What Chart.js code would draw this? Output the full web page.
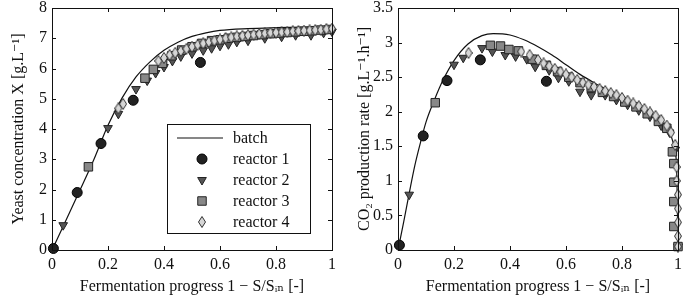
<!DOCTYPE html>
<html>
<head>
<meta charset="utf-8">
<script src="https://cdn.jsdelivr.net/npm/chart.js@4.4.1/dist/chart.umd.min.js"></script>
<style>
  body { margin: 0; background: #fff; }
  .row { display: flex; width: 692px; height: 304px; }
  canvas { display: block; }
</style>
</head>
<body>
<div class="row">
  <canvas id="biomass" width="346" height="304"></canvas>
  <canvas id="co2rate" width="346" height="304"></canvas>
</div>
<script>
// batch model curves
const batchXProgress = [0, 0.05, 0.1, 0.15, 0.2, 0.25, 0.3, 0.35, 0.4, 0.45, 0.5, 0.55, 0.6, 0.7, 0.8, 0.9, 1];
const batchXValues   = [0, 0.98, 1.98, 3.0, 4.12, 5.02, 5.72, 6.22, 6.6, 6.87, 7.06, 7.18, 7.26, 7.32, 7.35, 7.37, 7.38];

const batchRateProgress = [0, 0.02, 0.04, 0.06, 0.08, 0.1, 0.13, 0.16, 0.2, 0.25, 0.3, 0.34, 0.4, 0.45, 0.5, 0.55, 0.6, 0.65, 0.7, 0.75, 0.8, 0.85, 0.9, 0.95, 0.97, 0.985, 0.995, 1];
const batchRateValues   = [0, 0.4, 0.82, 1.22, 1.55, 1.85, 2.17, 2.45, 2.74, 2.98, 3.1, 3.13, 3.11, 3.04, 2.94, 2.82, 2.68, 2.54, 2.42, 2.31, 2.2, 2.08, 1.95, 1.8, 1.7, 1.52, 1.2, 0];

// reactor 1
const r1XProgress = [0.005, 0.09, 0.175, 0.29, 0.53];
const r1XValues   = [0.05, 1.9, 3.52, 4.95, 6.2];
const r1RateProgress = [0.005, 0.09, 0.175, 0.294, 0.53];
const r1RateValues   = [0.07, 1.65, 2.45, 2.75, 2.44];

// reactor 2
const r2XProgress = [0.04, 0.2, 0.237, 0.3, 0.34, 0.37, 0.4, 0.43, 0.46, 0.5, 0.54, 0.57, 0.6, 0.63, 0.66, 0.7, 0.76, 0.82, 0.87, 0.925, 0.97, 1.0];
const r2XValues   = [0.82, 4.03, 4.5, 5.32, 5.6, 5.85, 6.05, 6.25, 6.4, 6.5, 6.6, 6.67, 6.75, 6.8, 6.88, 6.92, 7.0, 7.05, 7.1, 7.1, 7.18, 7.22];
const r2RateProgress = [0.04, 0.2, 0.233, 0.3, 0.337, 0.383, 0.42, 0.46, 0.49, 0.54, 0.573, 0.61, 0.65, 0.69, 0.74, 0.78, 0.82, 0.86, 0.9, 0.94, 0.97, 0.99, 1.0];
const r2RateValues   = [0.8, 2.68, 2.78, 2.92, 2.87, 2.82, 2.8, 2.76, 2.65, 2.6, 2.49, 2.44, 2.29, 2.24, 2.24, 2.17, 2.1, 2.02, 1.93, 1.8, 1.7, 1.45, 0.05];

// reactor 3
const r3XProgress = [0.13, 0.332, 0.362, 0.395, 0.428, 0.463, 0.5, 0.535, 0.57, 0.6, 0.63, 0.66, 0.69, 0.72, 0.75, 0.78, 0.81, 0.84, 0.87, 0.9, 0.93, 0.96, 0.99];
const r3XValues   = [2.75, 5.68, 5.97, 6.17, 6.42, 6.61, 6.72, 6.83, 6.92, 6.95, 7.0, 7.03, 7.06, 7.09, 7.12, 7.15, 7.17, 7.19, 7.21, 7.23, 7.25, 7.27, 7.29];
const r3RateProgress = [0.133, 0.33, 0.366, 0.396, 0.43, 0.48, 0.53, 0.57, 0.61, 0.65, 0.69, 0.73, 0.77, 0.81, 0.85, 0.89, 0.93, 0.96, 0.98, 0.985, 0.985, 0.985, 0.985, 1.0];
const r3RateValues   = [2.13, 2.96, 2.95, 2.9, 2.88, 2.76, 2.67, 2.58, 2.5, 2.42, 2.35, 2.28, 2.22, 2.14, 2.07, 1.97, 1.86, 1.76, 1.42, 1.25, 0.98, 0.7, 0.34, 0.05];

// reactor 4
const r4XProgress = [0.237, 0.254, 0.38, 0.4, 0.42, 0.44, 0.46, 0.48, 0.5, 0.52, 0.54, 0.56, 0.58, 0.6, 0.62, 0.64, 0.66, 0.68, 0.7, 0.72, 0.74, 0.76, 0.78, 0.8, 0.82, 0.84, 0.86, 0.88, 0.9, 0.92, 0.94, 0.96, 0.98, 1.0];
const r4XValues   = [4.68, 4.83, 6.25, 6.35, 6.45, 6.52, 6.58, 6.65, 6.72, 6.78, 6.83, 6.88, 6.92, 6.96, 7.0, 7.03, 7.06, 7.08, 7.1, 7.12, 7.14, 7.16, 7.18, 7.19, 7.2, 7.21, 7.23, 7.24, 7.25, 7.26, 7.27, 7.28, 7.3, 7.32];
const r4RateProgress = [0.252, 0.44, 0.47, 0.5, 0.52, 0.54, 0.56, 0.58, 0.6, 0.62, 0.64, 0.66, 0.68, 0.7, 0.72, 0.74, 0.76, 0.78, 0.8, 0.82, 0.84, 0.86, 0.88, 0.9, 0.92, 0.94, 0.96, 0.975, 0.99, 0.995, 0.995, 1.0, 1.0, 1.0, 1.0, 1.0];
const r4RateValues   = [2.85, 2.87, 2.82, 2.75, 2.7, 2.66, 2.62, 2.58, 2.54, 2.5, 2.46, 2.42, 2.39, 2.36, 2.33, 2.3, 2.27, 2.24, 2.2, 2.16, 2.12, 2.08, 2.04, 1.99, 1.94, 1.88, 1.8, 1.7, 1.52, 1.2, 1.0, 0.8, 0.6, 0.4, 0.2, 0.05];

const legendLabels = ['batch', 'reactor 1', 'reactor 2', 'reactor 3', 'reactor 4'];

const SERIF = "'Liberation Serif', 'DejaVu Serif', serif";
const INK = '#111';

function pairs(xs, ys) {
    return xs.map((x, i) => ({ x: x, y: ys[i] }));
}

// thin diamond marker
const diamond = document.createElement('canvas');
diamond.width = 8;
diamond.height = 12;
(function () {
    const c = diamond.getContext('2d');
    c.beginPath();
    c.moveTo(4, 0.5);
    c.lineTo(7.5, 6);
    c.lineTo(4, 11.5);
    c.lineTo(0.5, 6);
    c.closePath();
    c.fillStyle = '#d6d6d6';
    c.fill();
    c.strokeStyle = '#333';
    c.lineWidth = 1;
    c.stroke();
})();

const markerStyles = [
    { pointStyle: 'circle', radius: 5, rotation: 0, backgroundColor: '#222', borderColor: '#000', borderWidth: 1 },
    { pointStyle: 'triangle', radius: 5, rotation: 180, backgroundColor: '#555', borderColor: '#222', borderWidth: 1 },
    { pointStyle: 'rect', radius: 6, rotation: 0, backgroundColor: '#888', borderColor: '#222', borderWidth: 1 },
    { pointStyle: diamond, radius: 5, rotation: 0, backgroundColor: '#d6d6d6', borderColor: '#333', borderWidth: 1 },
];

function reactorDataset(i, data) {
    const m = markerStyles[i];
    return {
        label: legendLabels[i + 1],
        data: data,
        showLine: false,
        pointStyle: m.pointStyle,
        pointRadius: m.radius,
        pointRotation: m.rotation,
        pointBackgroundColor: m.backgroundColor,
        pointBorderColor: m.borderColor,
        pointBorderWidth: m.borderWidth,
        order: 3 - i,
        clip: false
    };
}

// inward ticks + box, matlab style
const frameTicks = {
    id: 'frameTicks',
    afterDatasetsDraw(chart) {
        const { ctx, chartArea: a, scales: { x, y } } = chart;
        ctx.save();
        ctx.strokeStyle = INK;
        ctx.lineWidth = 1;
        ctx.beginPath();
        x.ticks.forEach(t => {
            const px = Math.round(x.getPixelForValue(t.value)) + 0.5;
            ctx.moveTo(px, a.bottom); ctx.lineTo(px, a.bottom - 4);
            ctx.moveTo(px, a.top); ctx.lineTo(px, a.top + 4);
        });
        y.ticks.forEach(t => {
            const py = Math.round(y.getPixelForValue(t.value)) + 0.5;
            ctx.moveTo(a.left, py); ctx.lineTo(a.left + 4, py);
            ctx.moveTo(a.right, py); ctx.lineTo(a.right - 4, py);
        });
        ctx.stroke();
        ctx.strokeRect(Math.round(a.left) + 0.5, Math.round(a.top) + 0.5, Math.round(a.width), Math.round(a.height));
        ctx.restore();
    }
};

// legend box inside the left axes
const insideLegend = {
    id: 'insideLegend',
    afterDraw(chart) {
        const { ctx, chartArea: a } = chart;
        const left = a.left + 115, top = a.top + 116, w = 143, h = 109;
        ctx.save();
        ctx.fillStyle = '#fff';
        ctx.fillRect(left, top, w, h);
        ctx.strokeStyle = INK;
        ctx.lineWidth = 1;
        ctx.strokeRect(left + 0.5, top + 0.5, w, h);
        ctx.font = '16px ' + SERIF;
        ctx.textBaseline = 'middle';
        ctx.fillStyle = INK;
        legendLabels.forEach((label, i) => {
            const cy = top + 14 + i * 21;
            const cx = left + 35;
            if (i === 0) {
                ctx.beginPath();
                ctx.moveTo(left + 10, cy);
                ctx.lineTo(left + 56, cy);
                ctx.lineWidth = 1.2;
                ctx.stroke();
            } else {
                const m = markerStyles[i - 1];
                if (m.pointStyle === diamond) {
                    ctx.drawImage(diamond, cx - diamond.width / 2, cy - diamond.height / 2);
                } else {
                    ctx.fillStyle = m.backgroundColor;
                    ctx.strokeStyle = m.borderColor;
                    ctx.lineWidth = m.borderWidth;
                    Chart.helpers.drawPoint(ctx, { pointStyle: m.pointStyle, radius: m.radius, rotation: m.rotation, borderWidth: m.borderWidth }, cx, cy);
                    ctx.strokeStyle = INK;
                }
            }
            ctx.fillStyle = INK;
            ctx.fillText(label, left + 66, cy + 1);
        });
        ctx.restore();
    }
};

const plainNumber = v => String(Number(v.toFixed(2)));

function makeChart(id, batch, reactors, yMax, yStep, yTitle, plugins) {
    const datasets = [{
        label: 'batch',
        data: batch,
        showLine: true,
        borderColor: INK,
        borderWidth: 1.2,
        pointRadius: 0,
        cubicInterpolationMode: 'monotone',
        order: 5
    }];
    reactors.forEach((d, i) => datasets.push(reactorDataset(i, d)));

    return new Chart(document.getElementById(id), {
        type: 'scatter',
        data: { datasets: datasets },
        options: {
            responsive: false,
            animation: false,
            events: [],
            layout: { padding: { top: 8, right: 14, left: 0, bottom: 0 } },
            plugins: { legend: { display: false }, tooltip: { enabled: false } },
            scales: {
                x: {
                    type: 'linear', min: 0, max: 1,
                    grid: { display: false, drawTicks: false },
                    border: { display: false },
                    ticks: { stepSize: 0.2, color: INK, padding: 5, maxRotation: 0, callback: plainNumber, font: { family: SERIF, size: 16 } },
                    title: { display: true, text: 'Fermentation progress 1 − S/Sᵢₙ [-]', color: INK, padding: { top: 0, bottom: 8 }, font: { family: SERIF, size: 16 } },
                    afterFit: s => { s.height = 54; s.paddingLeft = 0; s.paddingRight = 0; }
                },
                y: {
                    type: 'linear', min: 0, max: yMax,
                    grid: { display: false, drawTicks: false },
                    border: { display: false },
                    ticks: { stepSize: yStep, color: INK, padding: 5, callback: plainNumber, font: { family: SERIF, size: 16 } },
                    title: { display: true, text: yTitle, color: INK, padding: { top: 9, bottom: 0 }, font: { family: SERIF, size: 16 } },
                    afterFit: s => { s.width = 52; s.paddingTop = 0; s.paddingBottom = 0; }
                }
            }
        },
        plugins: plugins
    });
}

makeChart('biomass',
    pairs(batchXProgress, batchXValues),
    [pairs(r1XProgress, r1XValues), pairs(r2XProgress, r2XValues), pairs(r3XProgress, r3XValues), pairs(r4XProgress, r4XValues)],
    8, 1, 'Yeast concentration X [g.L⁻¹]', [frameTicks, insideLegend]);

makeChart('co2rate',
    pairs(batchRateProgress, batchRateValues),
    [pairs(r1RateProgress, r1RateValues), pairs(r2RateProgress, r2RateValues), pairs(r3RateProgress, r3RateValues), pairs(r4RateProgress, r4RateValues)],
    3.5, 0.5, 'CO₂ production rate [g.L⁻¹.h⁻¹]', [frameTicks]);
</script>
</body>
</html>
